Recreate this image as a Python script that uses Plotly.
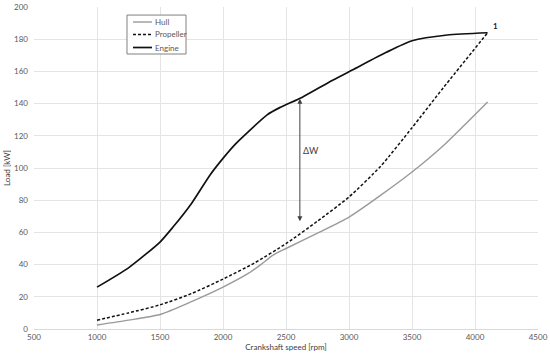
import plotly.graph_objects as go

# Data
engine_x = [1000, 1250, 1500, 1600, 1750, 1900, 2000, 2100, 2200, 2350, 2450, 2630, 2870, 3030, 3300, 3500, 3780, 4100]
engine_y = [26, 38, 54, 63, 78, 96, 106, 115, 122.5, 133, 137.5, 144, 154.5, 161, 172, 179, 182.6, 184]

prop_x = [1000, 1250, 1500, 1750, 2000, 2250, 2500, 2750, 3000, 3250, 3500, 3750, 4100]
prop_y = [5.5, 10, 15, 22, 31, 41, 53, 67, 82, 101, 125, 150, 184]

hull_x = [1000, 1250, 1500, 1750, 2000, 2200, 2300, 2400, 2500, 2750, 3000, 3250, 3500, 3750, 4100]
hull_y = [2.5, 5.5, 9, 17, 26, 34.5, 40, 46, 50, 59.5, 69.5, 83, 97.5, 114, 141]

series_names = ["Hull", "Propeller", "Engine"]

x_ticks = [500, 1000, 1500, 2000, 2500, 3000, 3500, 4000, 4500]
y_ticks = [0, 20, 40, 60, 80, 100, 120, 140, 160, 180, 200]

arrow_x = 2610
arrow_low = 66
arrow_high = 143

FONT = "Lato, Open Sans, sans-serif"

styles = [
    dict(color="#9a9a9a", width=1.4),
    dict(color="#111111", width=1.5, dash="3px,2px"),
    dict(color="#111111", width=1.7),
]

fig = go.Figure()
for name, xs, ys, st in zip(series_names, [hull_x, prop_x, engine_x], [hull_y, prop_y, engine_y], styles):
    fig.add_trace(go.Scatter(x=xs, y=ys, mode="lines", name=name,
                             line=dict(shape="spline", smoothing=0.6, **st)))

fig.add_annotation(x=arrow_x, y=arrow_high, ax=arrow_x, ay=arrow_low, xref="x", yref="y",
                   axref="x", ayref="y", showarrow=True, arrowhead=2, arrowside="end+start",
                   arrowsize=1, arrowwidth=1, arrowcolor="#404040", text="")
fig.add_annotation(x=2700, y=111, text="ΔW", showarrow=False,
                   font=dict(family=FONT, size=9, color="#404040"))
fig.add_annotation(x=4100, y=184, text="<b>1</b>", showarrow=False, xanchor="left", yanchor="bottom",
                   xshift=3, yshift=0, font=dict(family=FONT, size=8, color="#222222"))

# Compact legend box (paper coordinates)
leg_x0, leg_x1, leg_y0, leg_y1 = 0.1845, 0.3016, 0.854, 0.975
fig.add_shape(type="rect", xref="paper", yref="paper", x0=leg_x0, x1=leg_x1, y0=leg_y0, y1=leg_y1,
              line=dict(color="#808080", width=1), fillcolor="white", layer="above")
row_y = [0.9534, 0.9146, 0.8742]
for name, st, ry in zip(series_names, styles, row_y):
    fig.add_shape(type="line", xref="paper", yref="paper", x0=0.1964, x1=0.2341, y0=ry, y1=ry,
                  line=st, layer="above")
    fig.add_annotation(xref="paper", yref="paper", x=0.2361, y=ry, text=name, showarrow=False,
                       xanchor="left", yanchor="middle",
                       font=dict(family=FONT, size=8, color="#595959"))

fig.update_layout(
    width=550, height=356,
    margin=dict(l=34, r=12, t=7, b=27),
    paper_bgcolor="white", plot_bgcolor="white",
    font=dict(family=FONT, size=8, color="#595959"),
    showlegend=False,
    xaxis=dict(range=[500, 4500], tickvals=x_ticks, ticktext=[str(v) for v in x_ticks],
               showgrid=True, gridcolor="#e4e4e4", gridwidth=1, zeroline=False, automargin=False,
               showline=True, linecolor="#d9d9d9", linewidth=1, ticks="",
               title=dict(text="Crankshaft speed [rpm]", font=dict(family=FONT, size=8, color="#404040"), standoff=2),
               tickfont=dict(family=FONT, size=8, color="#595959")),
    yaxis=dict(range=[0, 200], tickvals=y_ticks, showgrid=True, gridcolor="#e4e4e4", gridwidth=1,
               zeroline=False, showline=False, ticks="", automargin=False, ticklabelstandoff=5,
               title=dict(text="Load [kW]", font=dict(family=FONT, size=8, color="#404040"), standoff=2),
               tickfont=dict(family=FONT, size=8, color="#595959")),
)

fig.write_html("out.html", config={"displayModeBar": False},
               post_script="document.body.style.margin='0px';")
